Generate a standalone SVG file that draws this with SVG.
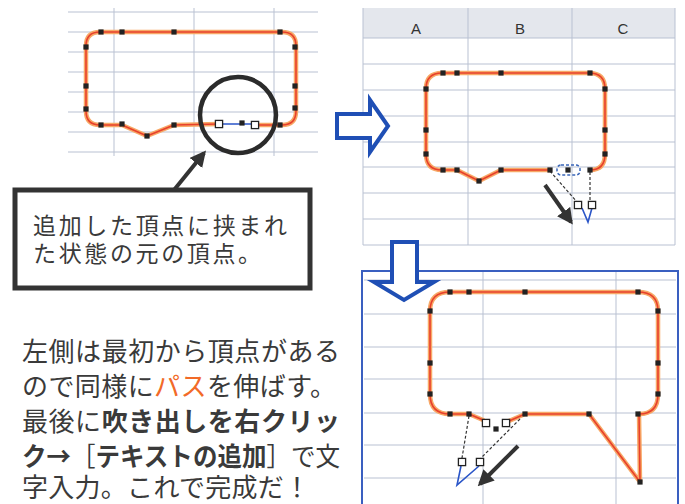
<svg xmlns="http://www.w3.org/2000/svg" xmlns:xlink="http://www.w3.org/1999/xlink" width="685" height="504" viewBox="0 0 685 504">
<style>
.grid{stroke:#b9c1d2;stroke-width:1;fill:none}
.bh{fill:none;stroke:#f7a866;stroke-width:4.5;stroke-linejoin:round;stroke-linecap:round}
.bc{fill:none;stroke:#e8402c;stroke-width:1.6;stroke-linejoin:round;stroke-linecap:round}
.dash{fill:none;stroke:#333;stroke-width:1.2;stroke-dasharray:3 2}
.blu{fill:none;stroke:#2a55c8;stroke-width:1.6}
.bigarrow{fill:#fff;stroke:#1f4fb5;stroke-width:4;stroke-linejoin:miter}
.ptr{stroke:#333;stroke-width:4;fill:none}
.jp{font-family:"Noto Sans CJK JP","Noto Sans",sans-serif;fill:#3a3a3a}
.b{font-weight:bold}
.col{font-family:"Liberation Sans",Arial,sans-serif;font-size:15px;fill:#333;text-anchor:middle}
</style>
<defs>
<rect id="h" x="-2.6" y="-2.6" width="5.2" height="5.2" fill="#222"/>
<rect id="w" x="-3.6" y="-3.6" width="7.2" height="7.2" fill="#fff" stroke="#222" stroke-width="1.3"/>
<marker id="ah" viewBox="0 0 10 10" refX="8" refY="5" markerWidth="4" markerHeight="4" orient="auto" markerUnits="strokeWidth">
<path d="M0,0 L10,5 L0,10 Z" fill="#333"/>
</marker>
</defs>
<rect width="685" height="504" fill="#fff"/>

<!-- Panel 1 -->
<g id="panel1">
<g class="grid">
<path d="M68,12H318M68,32H318M68,52H318M68,72H318M68,92H318M68,112H318M68,132H318M68,152H318"/>
<path d="M114,8V156M194,8V156M274,8V156"/>
</g>
</g>
<g id="bubble1">
<path class="bh" d="M174,125 L147,136 L122,125 L100,125 Q86,125 86,111 L86,46 Q86,32 100,32 L282,32 Q296,32 296,46 L296,111 Q296,125 282,125 L255,125 M219,124 L174,125"/>
<path class="bc" d="M174,125 L147,136 L122,125 L100,125 Q86,125 86,111 L86,46 Q86,32 100,32 L282,32 Q296,32 296,46 L296,111 Q296,125 282,125 L255,125 M219,124 L174,125"/>
<path class="blu" d="M219,124 L255,124"/>
<use xlink:href="#h" x="101" y="32"/><use xlink:href="#h" x="122" y="32"/><use xlink:href="#h" x="174" y="32"/><use xlink:href="#h" x="280" y="32"/>
<use xlink:href="#h" x="86" y="47"/><use xlink:href="#h" x="86" y="86"/><use xlink:href="#h" x="86" y="109"/>
<use xlink:href="#h" x="295" y="47"/><use xlink:href="#h" x="295" y="86"/><use xlink:href="#h" x="295" y="108"/>
<use xlink:href="#h" x="101" y="125"/><use xlink:href="#h" x="122" y="124"/><use xlink:href="#h" x="174" y="125"/><use xlink:href="#h" x="147" y="136"/>
<use xlink:href="#h" x="242" y="123"/><use xlink:href="#h" x="280" y="125"/>
<use xlink:href="#w" x="219" y="124"/><use xlink:href="#w" x="255" y="125"/>
</g>
<g id="circle">
<circle cx="238" cy="115" r="38" fill="none" stroke="#2b2b2b" stroke-width="4.5"/>
</g>
<g id="note-box">
<rect x="15" y="190" width="295" height="98" fill="#fff" stroke="#333" stroke-width="5"/>
<text class="jp" font-size="23" x="33" y="234" textLength="254" lengthAdjust="spacing">追加した頂点に挟まれ</text>
<text class="jp" font-size="23" x="33" y="262" textLength="228" lengthAdjust="spacing">た状態の元の頂点。</text>
</g>

<!-- Panel 2 -->
<g id="panel2">
<rect x="363" y="8" width="312" height="30" fill="#e4e7ed"/>
<g class="grid">
<path d="M363,38H675M363,64H675M363,90H675M363,116H675M363,142H675M363,167H675M363,193H675M363,219H675M363,245H675"/>
<path d="M363,8V245M468,8V245M572,8V245M675,8V245"/>
</g>
<text class="col" x="416" y="34">A</text>
<text class="col" x="520" y="34">B</text>
<text class="col" x="623" y="34">C</text>
</g>
<g id="bubble2">
<path class="bh" d="M550,170 L501,170 L479,181 L457,170 L442,170 Q426,170 426,154 L426,89 Q426,73 442,73 L589,73 Q605,73 605,89 L605,154 Q605,170 590,170"/>
<path class="bc" d="M550,170 L501,170 L479,181 L457,170 L442,170 Q426,170 426,154 L426,89 Q426,73 442,73 L589,73 Q605,73 605,89 L605,154 Q605,170 590,170"/>
<rect x="557" y="165" width="23" height="10" rx="4" fill="none" stroke="#3a66b8" stroke-width="1.5" stroke-dasharray="3 2"/>
<path class="dash" d="M550,171 L577,202 M590,172 L590,201"/>
<path class="blu" d="M582,208 L588,222 L592,208"/>
<use xlink:href="#h" x="443" y="73"/><use xlink:href="#h" x="457" y="73"/><use xlink:href="#h" x="501" y="73"/><use xlink:href="#h" x="590" y="73"/>
<use xlink:href="#h" x="426" y="89"/><use xlink:href="#h" x="426" y="130"/><use xlink:href="#h" x="426" y="154"/>
<use xlink:href="#h" x="605" y="89"/><use xlink:href="#h" x="605" y="130"/><use xlink:href="#h" x="605" y="154"/>
<use xlink:href="#h" x="443" y="170"/><use xlink:href="#h" x="457" y="170"/><use xlink:href="#h" x="501" y="170"/><use xlink:href="#h" x="479" y="181"/>
<use xlink:href="#h" x="550" y="170"/><use xlink:href="#h" x="568" y="170"/><use xlink:href="#h" x="590" y="170"/>
<use xlink:href="#w" x="578" y="205"/><use xlink:href="#w" x="592" y="205"/>
</g>

<!-- Panel 3 -->
<g id="panel3">
<g class="grid">
<path d="M364,280H676M364,314H676M364,347H676M364,379H676M364,413H676M364,445H676M364,478H676"/>
<path d="M483,272V504M616,272V504"/>
</g>
<rect x="362" y="271" width="316" height="240" fill="none" stroke="#3a5fc0" stroke-width="2"/>
</g>
<g id="bubble3">
<path class="bh" d="M483,420 L469,414 L450,414 Q430,414 430,394 L430,311 Q430,292 450,292 L638,292 Q658,292 658,311 L658,394 Q658,414 639,414 L640,482 L589,414 L525,414 L509,421"/>
<path class="bc" d="M483,420 L469,414 L450,414 Q430,414 430,394 L430,311 Q430,292 450,292 L638,292 Q658,292 658,311 L658,394 Q658,414 639,414 L640,482 L589,414 L525,414 L509,421"/>
<path class="dash" d="M469,416 L462,458 M520,419 L481,458"/>
<path class="blu" d="M461,466 L457,485 L479,466"/>
<use xlink:href="#h" x="450" y="292"/><use xlink:href="#h" x="469" y="292"/><use xlink:href="#h" x="525" y="292"/><use xlink:href="#h" x="638" y="292"/>
<use xlink:href="#h" x="430" y="311"/><use xlink:href="#h" x="430" y="363"/><use xlink:href="#h" x="430" y="394"/>
<use xlink:href="#h" x="658" y="311"/><use xlink:href="#h" x="658" y="363"/><use xlink:href="#h" x="658" y="394"/>
<use xlink:href="#h" x="450" y="414"/><use xlink:href="#h" x="469" y="414"/><use xlink:href="#h" x="525" y="414"/><use xlink:href="#h" x="589" y="414"/><use xlink:href="#h" x="638" y="414"/>
<use xlink:href="#h" x="640" y="482"/><use xlink:href="#h" x="496" y="429"/>
<use xlink:href="#w" x="486" y="423"/><use xlink:href="#w" x="506" y="423"/>
<use xlink:href="#w" x="462" y="462"/><use xlink:href="#w" x="480" y="462"/>
</g>

<!-- Connectors -->
<g id="connectors">
<path class="bigarrow" d="M337,114 L370,114 L370,100 L388,126 L370,152 L370,138 L337,138 Z"/>
<path class="bigarrow" d="M392,242 L417,242 L417,282 L434,282 L404,300 L374,282 L392,282 Z"/>
<line class="ptr" x1="174" y1="190" x2="204" y2="153" marker-end="url(#ah)"/>
<line class="ptr" x1="545" y1="185" x2="571" y2="222" marker-end="url(#ah)"/>
<line class="ptr" x1="518" y1="446" x2="480" y2="484" marker-end="url(#ah)"/>
</g>

<!-- Body text -->
<g id="body-text" class="jp" font-size="26">
<text x="22" y="361" textLength="318" lengthAdjust="spacing">左側は最初から頂点がある</text>
<text x="22" y="396" textLength="314" lengthAdjust="spacing">ので同様に<tspan fill="#f26a28">パス</tspan>を伸ばす。</text>
<text x="22" y="431" textLength="318" lengthAdjust="spacing">最後に<tspan class="b">吹き出しを右クリッ</tspan></text>
<text x="22" y="466" textLength="318" lengthAdjust="spacingAndGlyphs"><tspan class="b">ク→</tspan>［<tspan class="b">テキストの追加</tspan>］で文</text>
<text x="22" y="497" textLength="288" lengthAdjust="spacing">字入力。これで完成だ！</text>
</g>
</svg>
